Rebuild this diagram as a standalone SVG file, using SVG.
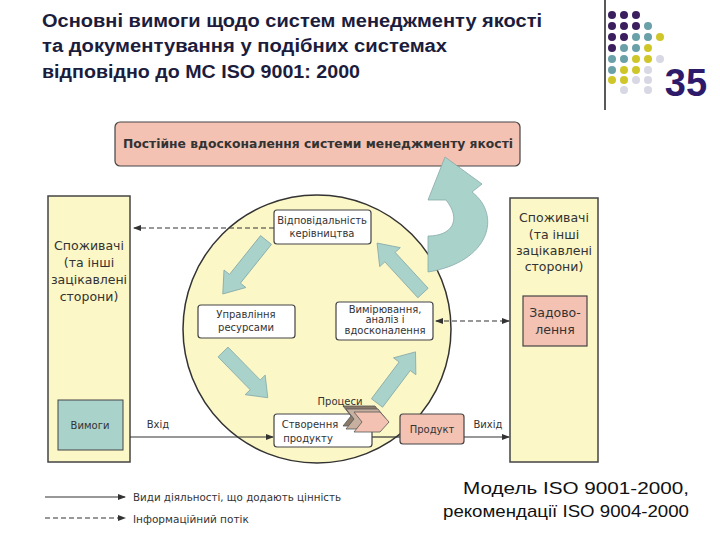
<svg xmlns="http://www.w3.org/2000/svg" width="720" height="540" viewBox="0 0 720 540">
<defs>
<style>
.t{font-family:"Liberation Sans",Arial,sans-serif;font-weight:bold;font-size:18px;fill:#1c1c3c}
.d{font-family:"DejaVu Sans",sans-serif;font-size:10px;fill:#333;text-anchor:middle}
.lg{font-family:"DejaVu Sans",sans-serif;font-size:10.5px;fill:#333}
.big{font-family:"DejaVu Sans",sans-serif;font-size:12.5px;fill:#333;text-anchor:middle}
.box{fill:#fff;stroke:#444;stroke-width:1.2}
.pink{fill:#f4c2b2;stroke:#444;stroke-width:1.2}
.ba{fill:#a9d2ca;stroke:#8aa;stroke-width:0.8}
.ln{stroke:#333;stroke-width:1.2;fill:none}
.ds{stroke:#333;stroke-width:1.2;fill:none;stroke-dasharray:5 3}
.p{fill:#3a1e5e}.g{fill:#6aa0a8}.y{fill:#cfc62a}.l{fill:#d8d8e4}
</style>
<marker id="ah" markerWidth="8" markerHeight="8" refX="7" refY="4" orient="auto-start-reverse" markerUnits="userSpaceOnUse"><path d="M0,1 L8,4 L0,7 Z" fill="#333"/></marker>
<path id="blk" d="M0,-7 L46,-7 L46,-14 L64,0 L46,14 L46,7 L0,7 Z"/>
</defs>
<rect width="720" height="540" fill="#fff"/>
<g id="title">
<text class="t" x="42" y="27" textLength="500" lengthAdjust="spacingAndGlyphs">Основні вимоги щодо систем менеджменту якості</text>
<text class="t" x="42" y="52" textLength="405" lengthAdjust="spacingAndGlyphs">та документування у подібних системах</text>
<text class="t" x="42" y="78" textLength="318" lengthAdjust="spacingAndGlyphs">відповідно до МС ISO 9001: 2000</text>
</g>
<g id="deco">
<line x1="605" y1="0" x2="605" y2="110" stroke="#222" stroke-width="1.5"/>
<g>
<circle class="p" cx="612" cy="15" r="4"/><circle class="p" cx="624" cy="15" r="4"/><circle class="p" cx="636" cy="15" r="4"/>
<circle class="p" cx="612" cy="26" r="4"/><circle class="p" cx="624" cy="26" r="4"/><circle class="p" cx="636" cy="26" r="4"/><circle class="g" cx="648" cy="26" r="4"/>
<circle class="p" cx="612" cy="37" r="4"/><circle class="p" cx="624" cy="37" r="4"/><circle class="g" cx="636" cy="37" r="4"/><circle class="g" cx="648" cy="37" r="4"/><circle class="y" cx="660" cy="37" r="4"/>
<circle class="p" cx="612" cy="48" r="4"/><circle class="g" cx="624" cy="48" r="4"/><circle class="g" cx="636" cy="48" r="4"/><circle class="y" cx="648" cy="48" r="4"/>
<circle class="g" cx="612" cy="59" r="4"/><circle class="g" cx="624" cy="59" r="4"/><circle class="y" cx="636" cy="59" r="4"/><circle class="y" cx="648" cy="59" r="4"/><circle class="l" cx="660" cy="59" r="4"/>
<circle class="g" cx="612" cy="70" r="4"/><circle class="y" cx="624" cy="70" r="4"/><circle class="y" cx="636" cy="70" r="4"/><circle class="l" cx="648" cy="70" r="4"/>
<circle class="y" cx="612" cy="80" r="4"/><circle class="y" cx="624" cy="80" r="4"/><circle class="l" cx="636" cy="80" r="4"/><circle class="l" cx="648" cy="80" r="4"/>
<circle class="l" cx="624" cy="90" r="4"/><circle class="l" cx="648" cy="90" r="4"/>
</g>
<text x="686" y="96" font-family="Liberation Sans,Arial,sans-serif" font-weight="bold" font-size="38" fill="#2e1a6b" text-anchor="middle">35</text>
</g>
<g id="top">
<rect class="pink" x="115" y="122" width="405" height="44" rx="5"/>
<text x="318" y="148" font-family="DejaVu Sans,sans-serif" font-weight="bold" font-size="12" fill="#333" text-anchor="middle" textLength="390" lengthAdjust="spacingAndGlyphs">Постійне вдосконалення системи менеджменту якості</text>
</g>
<g id="left">
<rect x="48" y="196" width="82" height="266" fill="#fbf7c6" stroke="#444" stroke-width="1.5"/>
<text class="big" x="89" y="250">Споживачі</text><text class="big" x="89" y="267">(та інші</text><text class="big" x="89" y="284">зацікавлені</text><text class="big" x="89" y="301">сторони)</text>
<rect x="58" y="400" width="65" height="50" fill="#a9d2ca" stroke="#444"/>
<text class="d" x="90" y="429" font-size="11">Вимоги</text>
</g>
<g id="right">
<rect x="510" y="198" width="88" height="264" fill="#fbf7c6" stroke="#444" stroke-width="1.5"/>
<text class="big" x="554" y="222">Споживачі</text><text class="big" x="554" y="239">(та інші</text><text class="big" x="554" y="255">зацікавлені</text><text class="big" x="554" y="271">сторони)</text>
<rect class="pink" x="523" y="296" width="64" height="50"/>
<text class="big" x="555" y="317">Задово-</text><text class="big" x="555" y="334">лення</text>
</g>
<g id="circle"><circle cx="317" cy="329" r="134" fill="#fbf7c6" stroke="#333" stroke-width="1.5"/></g>
<g id="arrows">
<use href="#blk" class="ba" transform="translate(266,240) rotate(128.7) scale(1.08,1)"/>
<use href="#blk" class="ba" transform="translate(223,352) rotate(45.6)"/>
<use href="#blk" class="ba" transform="translate(377,403) rotate(-53)"/>
<use href="#blk" class="ba" transform="translate(423,293) rotate(-132.6) scale(1.06,1)"/>
<path class="ba" d="M428,236 L428,272 C490,262 502,215 472,192 L482,184 L445,157 L428,200 L446,200 C462,220 452,236 428,236 Z"/>
</g>
<g id="connectors">
<line class="ds" x1="274" y1="228" x2="134" y2="228" marker-end="url(#ah)"/>
<line class="ds" x1="436" y1="321" x2="509" y2="321" marker-start="url(#ah)" marker-end="url(#ah)"/>
<line class="ln" x1="130" y1="437" x2="273" y2="437" marker-end="url(#ah)"/>
<line class="ln" x1="372" y1="437" x2="400" y2="437"/>
<line class="ln" x1="464" y1="437" x2="509" y2="437" marker-end="url(#ah)"/>
<text class="d" x="158" y="428" font-size="9">Вхід</text>
<text class="d" x="488" y="428" font-size="9">Вихід</text>
</g>
<g id="n1"><rect class="box" x="274" y="210" width="97" height="34" rx="3"/><text class="d" x="322" y="224">Відповідальність</text><text class="d" x="322" y="237">керівництва</text></g>
<g id="n2"><rect class="box" x="198" y="305" width="97" height="33" rx="3"/><text class="d" x="246" y="318">Управління</text><text class="d" x="246" y="331">ресурсами</text></g>
<g id="n3"><rect class="box" x="336" y="302" width="97" height="38" rx="3"/><text class="d" x="385" y="313" font-size="9.5">Вимірювання,</text><text class="d" x="385" y="323" font-size="8.5">аналіз і</text><text class="d" x="385" y="334" font-size="9.5">вдосконалення</text></g>
<g id="n4"><rect class="box" x="274" y="414" width="98" height="33" rx="3"/><text class="d" x="310" y="428" font-size="11">Створення</text><text class="d" x="308" y="442" font-size="11">продукту</text></g>
<g id="proc">
<path d="M343,406 L375,406 L383,416 L375,426 L343,426 L351,416 Z" fill="#8a7a6a" stroke="#555" stroke-width="0.8"/>
<path d="M346,409 L378,409 L386,419 L378,429 L346,429 L354,419 Z" fill="#c8b0a0" stroke="#555" stroke-width="0.8"/>
<path d="M354,412 L380,412 L389,422 L380,432 L354,432 L362,422 Z" fill="#f4c2b2" stroke="#555" stroke-width="0.8"/>
<text class="d" x="340" y="405">Процеси</text>
</g>
<g id="n5"><rect class="pink" x="400" y="414" width="64" height="30" rx="3"/><text class="d" x="432" y="433">Продукт</text></g>
<g id="legend">
<line class="ln" x1="45" y1="497" x2="125" y2="497" marker-end="url(#ah)"/>
<line class="ds" x1="45" y1="518" x2="125" y2="518" marker-end="url(#ah)"/>
<text class="lg" x="133" y="501" textLength="208" lengthAdjust="spacingAndGlyphs">Види діяльності, що додають цінність</text>
<text class="lg" x="133" y="523">Інформаційний потік</text>
</g>
<g id="caption">
<text x="576" y="494" font-family="Liberation Sans,Arial,sans-serif" font-size="17" fill="#111" text-anchor="middle" textLength="226" lengthAdjust="spacingAndGlyphs">Модель ISO 9001-2000,</text>
<text x="566" y="517" font-family="Liberation Sans,Arial,sans-serif" font-size="17" fill="#111" text-anchor="middle" textLength="246" lengthAdjust="spacingAndGlyphs">рекомендації ISO 9004-2000</text>
</g>
</svg>
